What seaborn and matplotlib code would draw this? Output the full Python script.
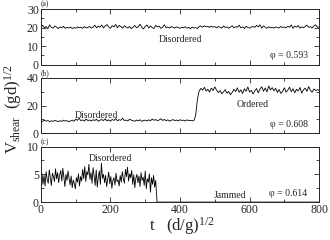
import numpy as np
import pandas as pd
import seaborn as sns
import matplotlib.pyplot as plt
from matplotlib.ticker import MultipleLocator

sns.set_style("ticks")
plt.rcParams['font.family'] = ['Liberation Serif', 'DejaVu Serif']
plt.rcParams['mathtext.fontset'] = 'custom'
plt.rcParams['mathtext.rm'] = 'Liberation Serif'
plt.rcParams['mathtext.it'] = 'Liberation Serif:italic'

# panel (a): phi = 0.593, sampled every 5 time units
t_a = np.arange(0, 805, 5)
v_a = [
    20.3, 21.2, 19.8, 20.6, 19.4, 21.5, 20.1, 19.7, 20.9, 20.2, 19.5, 20.4, 19.9, 20.7, 19.6, 20.1, 19.8, 20.3, 19.5, 20.0,
    19.7, 20.4, 19.9, 20.2, 19.6, 20.5, 19.8, 20.1, 20.6, 19.7, 20.3, 21.3, 19.9, 20.8, 20.2, 21.4, 19.8, 20.9, 21.6, 20.3,
    19.6, 21.1, 20.4, 21.7, 19.9, 21.2, 20.5, 19.7, 21.0, 20.2, 19.8, 20.6, 19.4, 20.3, 21.1, 19.9, 20.5, 21.8, 20.1, 19.3,
    20.7, 21.4, 19.8, 20.9, 20.0, 19.5, 21.2, 20.4, 20.8, 19.6, 20.2, 21.5, 19.9, 20.3, 19.7, 20.6, 20.1, 19.8, 20.4, 20.0,
    19.6, 20.2, 19.9, 20.5, 19.7, 20.1, 19.4, 20.3, 19.8, 20.0, 19.5, 20.6, 20.9, 20.2, 21.0, 20.4, 20.7, 20.1, 20.8, 20.3,
    20.5, 19.9, 20.6, 20.2, 19.7, 20.9, 20.1, 20.4, 19.6, 20.3, 21.0, 19.8, 20.5, 20.2, 21.3, 19.9, 20.4, 19.5, 20.7, 20.0,
    19.8, 20.3, 20.6, 20.1, 21.2, 20.4, 21.5, 19.7, 20.9, 20.2, 19.6, 20.5, 19.9, 20.2, 19.7, 20.4, 20.0, 19.8, 20.6, 20.1,
    20.3, 19.9, 20.7, 20.2, 21.4, 19.6, 20.8, 20.3, 21.1, 19.7, 20.4, 19.9, 20.6, 21.3, 20.1, 20.5, 19.8, 20.9, 21.5, 20.2,
    20.4,
]

# panel (b): phi = 0.608, disordered -> ordered near t = 446
t_b = np.arange(0, 805, 5)
v_b = [
    9.1, 8.6, 9.4, 8.8, 9.2, 8.5, 9.0, 8.7, 9.3, 8.9, 8.4, 9.1, 8.6, 9.5, 8.8, 9.2, 8.3, 8.9, 9.6, 8.7,
    10.2, 9.4, 10.8, 9.1, 9.7, 8.8, 10.3, 9.2, 9.6, 8.9, 9.8, 9.3, 10.1, 8.7, 9.5, 9.9, 9.2, 10.4, 9.0, 9.7,
    8.8, 10.0, 9.3, 10.6, 9.1, 9.8, 9.4, 10.9, 9.2, 9.6, 8.9, 10.2, 9.5, 9.1, 8.7, 9.6, 9.0, 9.8, 8.6, 9.3,
    9.5, 8.9, 9.7, 9.1, 10.3, 9.4, 9.9, 9.2, 9.6, 10.5, 9.3, 10.0, 9.1, 9.7, 8.8, 9.4, 9.9, 9.2, 9.6, 9.0,
    9.8, 9.3, 9.5, 8.9, 9.7, 9.2, 9.4, 9.0, 9.3,
    13.0, 24.5, 30.5,
    32.4, 31.1, 33.2, 30.5, 31.8, 29.7, 32.6, 30.9, 33.5, 31.2, 29.4, 30.8, 28.6, 29.9, 31.5, 28.9, 30.2, 27.8, 29.5, 31.7,
    30.1, 32.8, 29.6, 31.4, 28.7, 32.1, 30.3, 33.4, 29.8, 31.0, 28.4, 30.6, 32.3, 29.2, 31.9, 33.6, 30.4, 32.7, 29.9, 34.1,
    31.3, 33.0, 30.7, 32.5, 29.5, 31.6, 28.8, 30.2, 32.9, 29.7, 31.1, 33.3, 30.0, 32.2, 29.3, 31.8, 30.6, 33.1, 29.0, 31.4,
    32.6, 30.3, 33.7, 31.0, 29.6, 32.0, 30.8, 31.5, 30.9,
]

# panel (c): phi = 0.614, disordered until t ~ 334, then jammed at 0
t_c = list(np.arange(0, 333, 3)) + [334, 800]
v_c = [
    3.6, 5.1, 3.2, 4.8, 2.9, 5.5, 4.1, 3.4, 5.8, 4.4, 3.0, 5.2, 4.6, 3.7, 6.0, 4.2, 5.3, 3.5, 4.9, 5.7,
    3.8, 6.1, 4.5, 2.8, 5.0, 3.9, 5.6, 4.3, 3.1, 4.7, 2.6, 4.0, 3.3, 2.4, 4.4, 3.6, 5.1, 2.9, 4.6, 3.8,
    5.9, 4.2, 6.4, 3.7, 5.5, 4.9, 6.8, 4.1, 5.3, 3.4, 6.2, 4.7, 3.0, 5.8, 2.7, 4.5, 5.6, 3.2, 7.0, 4.3,
    5.0, 3.5, 4.8, 2.8, 4.1, 5.4, 3.3, 4.6, 2.5, 3.9, 4.4, 3.1, 5.2, 3.7, 4.0, 2.9, 4.8, 3.6, 5.5, 4.2,
    3.4, 5.9, 4.6, 6.3, 3.8, 5.1, 4.4, 5.7, 3.2, 4.9, 2.6, 4.3, 5.0, 3.5, 4.7, 2.8, 5.3, 3.9, 4.5, 3.0,
    5.6, 2.4, 4.2, 3.6, 5.1, 1.8, 4.4, 3.2, 4.8, 2.7, 3.9,
    0.0, 0.0,
]

panels = [
    ('(a)', t_a, v_a, (0, 30), 10, 5, [('Disordered', 0.5, 0.45)], 'φ = 0.593'),
    ('(b)', t_b, v_b, (0, 40), 20, 10, [('Disordered', 0.2, 0.32), ('Ordered', 0.76, 0.52)], 'φ = 0.608'),
    ('(c)', t_c, v_c, (0, 10), 5, 2.5, [('Disordered', 0.25, 0.78), ('Jammed', 0.68, 0.11)], 'φ = 0.614'),
]

fig, axes = plt.subplots(3, 1, figsize=(3.3, 2.4), dpi=100, sharex=True)
fig.subplots_adjust(left=0.124, right=0.967, top=0.962, bottom=0.158, hspace=0.24)

for ax, (lab, t, v, ylim, major, minor, notes, phi) in zip(axes, panels):
    df = pd.DataFrame({'t': t, 'v': v})
    sns.lineplot(data=df, x='t', y='v', ax=ax, color='black', lw=0.6, errorbar=None)
    ax.set_xlim(0, 800)
    ax.set_ylim(*ylim)
    ax.xaxis.set_major_locator(MultipleLocator(200))
    ax.xaxis.set_minor_locator(MultipleLocator(100))
    ax.yaxis.set_major_locator(MultipleLocator(major))
    ax.yaxis.set_minor_locator(MultipleLocator(minor))
    ax.tick_params(which='both', direction='in', top=True, right=True, labelsize=8.5, pad=1.5)
    ax.tick_params(which='major', length=3.5, width=0.6)
    ax.tick_params(which='minor', length=2, width=0.6)
    for s in ax.spines.values():
        s.set_linewidth(0.7)
    ax.set_xlabel('')
    ax.set_ylabel('')
    ax.text(0.0, 1.01, lab, transform=ax.transAxes, fontsize=5.5, ha='left', va='bottom')
    for txt, x, y in notes:
        ax.text(x, y, txt, transform=ax.transAxes, fontsize=7, ha='center', va='center')
    ax.text(0.89, 0.16, phi, transform=ax.transAxes, fontsize=7, ha='center', va='center')

fig.text(0.04, 0.545, r'V$_{\mathrm{shear}}$  (gd)$^{1/2}$', rotation=90, fontsize=12,
         ha='center', va='center')
fig.text(0.55, 0.06, r't   (d/g)$^{1/2}$', fontsize=12, ha='center', va='center')

fig.savefig('out.png', dpi=100)
